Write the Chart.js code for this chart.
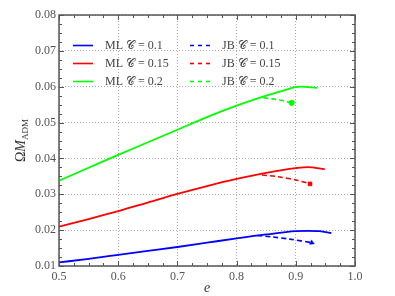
<!DOCTYPE html>
<html>
<head>
<meta charset="utf-8">
<script src="https://cdn.jsdelivr.net/npm/chart.js@4/dist/chart.umd.min.js"></script>
<style>
  html, body { margin: 0; padding: 0; background: #fff; }
  #wrap { width: 395px; height: 296px; }
</style>
</head>
<body>
<div id="wrap"><canvas id="c"></canvas></div>
<script>
// values
const mlE1 = [0.5, 0.55, 0.6, 0.65, 0.7, 0.75, 0.8, 0.85, 0.9, 0.92, 0.94, 0.96];
const mlC01 = [0.0110, 0.0120, 0.0131, 0.0142, 0.0153, 0.0165, 0.0177, 0.0188, 0.0197, 0.0198, 0.0197, 0.0192];
const mlE2 = [0.5, 0.55, 0.6, 0.65, 0.7, 0.75, 0.8, 0.85, 0.9, 0.92, 0.949];
const mlC015 = [0.0210, 0.0231, 0.0253, 0.0277, 0.0301, 0.0323, 0.0343, 0.0360, 0.0373, 0.0376, 0.0370];
const mlE3 = [0.5, 0.55, 0.6, 0.65, 0.7, 0.75, 0.8, 0.85, 0.88, 0.907, 0.936];
const mlC02 = [0.0338, 0.0374, 0.0410, 0.0445, 0.0480, 0.0515, 0.0547, 0.0575, 0.0590, 0.0600, 0.0597];
const jbE1 = [0.835, 0.86, 0.89, 0.927];
const jbC01 = [0.0185, 0.0181, 0.0175, 0.0165];
const jbE2 = [0.843, 0.87, 0.90, 0.924];
const jbC015 = [0.0354, 0.0349, 0.0340, 0.0329];
const jbE3 = [0.845, 0.86, 0.875, 0.893];
const jbC02 = [0.0569, 0.0566, 0.0562, 0.0555];
const yTicks = [0.01, 0.02, 0.03, 0.04, 0.05, 0.06, 0.07, 0.08];
const xTicks = [0.5, 0.6, 0.7, 0.8, 0.9, 1.0];

const pts = (xs, ys) => xs.map((x, i) => ({x: x, y: ys[i]}));
const serif = '"Liberation Serif", "DejaVu Serif", serif';

function ml(label, xs, ys, color) {
  return { label, data: pts(xs, ys), borderColor: color, backgroundColor: color,
    borderWidth: 1.8, pointRadius: 0, tension: 0.4, cubicInterpolationMode: 'monotone' };
}
function jb(label, xs, ys, color, style) {
  const n = xs.length;
  return { label, data: pts(xs, ys), borderColor: color, backgroundColor: color,
    borderWidth: 1.6, borderDash: [5, 3], tension: 0.3,
    pointRadius: ctx => ctx.dataIndex === n - 1 ? 2.8 : 0,
    pointBorderWidth: 0.5,
    pointStyle: style, pointRotation: style === 'triangle' ? 115 : 0, dashed: true };
}

// minor ticks on all sides, drawn inward
const frame = {
  id: 'frame',
  afterDraw(chart) {
    const {ctx, chartArea: a, scales: {x, y}} = chart;
    ctx.save();
    ctx.strokeStyle = '#555';
    ctx.lineWidth = 1;
    for (let v = 0.5; v <= 1.0001; v += 0.025) {
      const px = Math.round(x.getPixelForValue(v)) + 0.5;
      const major = Math.abs(v * 10 - Math.round(v * 10)) < 1e-6;
      const l = major ? 5 : 3;
      ctx.beginPath();
      ctx.moveTo(px, a.bottom); ctx.lineTo(px, a.bottom - l);
      ctx.moveTo(px, a.top); ctx.lineTo(px, a.top + l);
      ctx.stroke();
    }
    for (let v = 0.01; v <= 0.08001; v += 0.0025) {
      const py = Math.round(y.getPixelForValue(v)) + 0.5;
      const major = Math.abs(v * 100 - Math.round(v * 100)) < 1e-6;
      const l = major ? 5 : 3;
      ctx.beginPath();
      ctx.moveTo(a.left, py); ctx.lineTo(a.left + l, py);
      ctx.moveTo(a.right, py); ctx.lineTo(a.right - l, py);
      ctx.stroke();
    }
    ctx.lineWidth = 1.5;
    ctx.strokeRect(a.left, a.top, a.right - a.left, a.bottom - a.top);

    // axis titles
    ctx.fillStyle = '#333';
    ctx.font = 'italic 14px ' + serif;
    ctx.textAlign = 'center';
    ctx.textBaseline = 'alphabetic';
    ctx.fillText('e', (a.left + a.right) / 2, 292);
    ctx.translate(25, (a.top + a.bottom) / 2);
    ctx.rotate(-Math.PI / 2);
    ctx.font = '14px ' + serif;
    ctx.textAlign = 'left';
    const w1 = ctx.measureText('Ω').width;
    ctx.font = 'italic 14px ' + serif;
    const w2 = ctx.measureText('M').width;
    ctx.font = '9px ' + serif;
    const w3 = ctx.measureText('ADM').width;
    let sx = -(w1 + w2 + w3) / 2;
    ctx.font = '14px ' + serif;
    ctx.fillText('Ω', sx, 0);
    ctx.font = 'italic 14px ' + serif;
    ctx.fillText('M', sx + w1, 0);
    ctx.font = '9px ' + serif;
    ctx.fillText('ADM', sx + w1 + w2, 3);
    ctx.restore();

    // legend in two columns inside the plot
    ctx.save();
    ctx.font = '12px ' + serif;
    ctx.textBaseline = 'middle';
    ctx.fillStyle = '#444';
    chart.data.datasets.forEach((ds, i) => {
      const col = ds.dashed ? 1 : 0;
      const row = i % 3;
      const lx = col ? 190 : 73;
      const ly = 45.5 + row * 18;
      ctx.strokeStyle = ds.borderColor;
      ctx.lineWidth = 1.6;
      ctx.setLineDash(ds.dashed ? [4, 4] : []);
      ctx.beginPath(); ctx.moveTo(lx, ly); ctx.lineTo(lx + 20, ly); ctx.stroke();
      ctx.setLineDash([]);
      ctx.fillText(ds.label, lx + 32, ly);
    });
    ctx.restore();
  }
};

new Chart(document.getElementById('c'), {
  type: 'line',
  data: {
    datasets: [
      ml('ML 𝒞 = 0.1', mlE1, mlC01, '#0000ff'),
      ml('ML 𝒞 = 0.15', mlE2, mlC015, '#ff0000'),
      ml('ML 𝒞 = 0.2', mlE3, mlC02, '#00ff00'),
      jb('JB 𝒞 = 0.1', jbE1, jbC01, '#0000ff', 'triangle'),
      jb('JB 𝒞 = 0.15', jbE2, jbC015, '#ff0000', 'rect'),
      jb('JB 𝒞 = 0.2', jbE3, jbC02, '#00ff00', 'circle')
    ]
  },
  options: {
    responsive: true,
    maintainAspectRatio: false,
    animation: false,
    layout: { padding: { left: 0, right: 40, top: 15, bottom: 0 } },
    plugins: { legend: { display: false }, tooltip: { enabled: false } },
    scales: {
      x: {
        type: 'linear', min: 0.5, max: 1.0,
        afterBuildTicks: s => { s.ticks = xTicks.map(v => ({value: v})); },
        afterFit: s => { s.height = 30; },
        grid: { color: '#aaa', drawTicks: false },
        border: { display: false, dash: [1, 2] },
        ticks: { color: '#555', padding: 4, font: { family: serif, size: 12 },
          callback: v => v.toFixed(1) }
      },
      y: {
        type: 'linear', min: 0.01, max: 0.08,
        afterBuildTicks: s => { s.ticks = yTicks.map(v => ({value: v})); },
        afterFit: s => { s.width = 59; },
        grid: { color: '#aaa', drawTicks: false },
        border: { display: false, dash: [1, 2] },
        ticks: { color: '#555', padding: 3, font: { family: serif, size: 12 },
          callback: v => v.toFixed(2) }
      }
    }
  },
  plugins: [frame]
});
</script>
</body>
</html>
